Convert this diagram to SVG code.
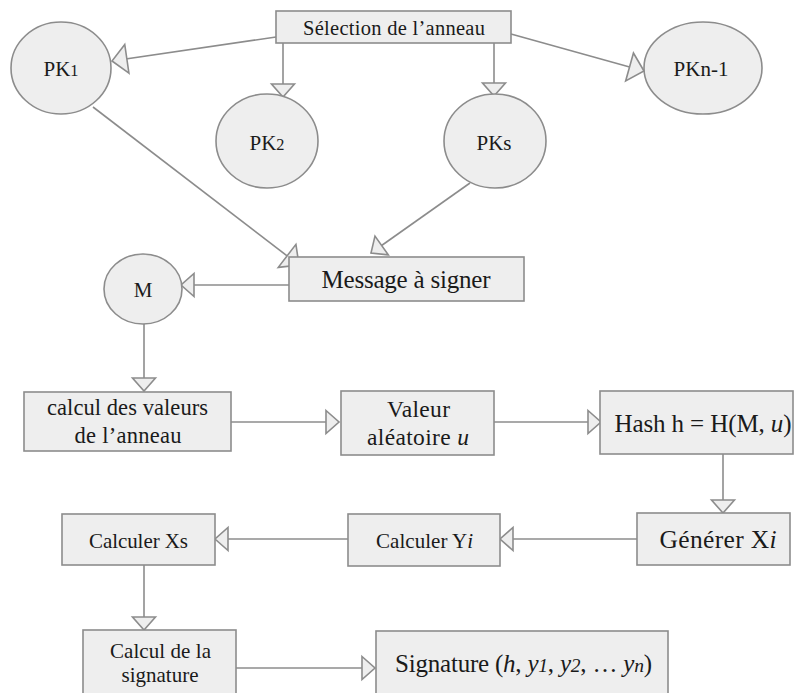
<svg xmlns="http://www.w3.org/2000/svg" width="795" height="693" viewBox="0 0 795 693">
  <style>
    .box { fill: #eeeeee; stroke: #8c8c8c; stroke-width: 1.6; }
    .edge { fill: none; stroke: #8c8c8c; stroke-width: 1.6; }
    .lbl { font-family: "Liberation Serif", "Times New Roman", serif; fill: #1a1a1a; text-anchor: middle; }
    .it { font-style: italic; }
    .sm { font-size: 0.78em; }
  </style>
  <defs>
    <!-- open triangular arrowhead, tip at the path end -->
    <marker id="tri" markerUnits="userSpaceOnUse" orient="auto" markerWidth="40" markerHeight="40" viewBox="-20 -20 40 40" refX="0" refY="0" overflow="visible">
      <path d="M-13,-11.5 L0,0 L-13,11.5 Z" fill="#eeeeee" stroke="#8c8c8c" stroke-width="1.6" stroke-linejoin="miter"/>
    </marker>
    <marker id="triBig" markerUnits="userSpaceOnUse" orient="auto" markerWidth="40" markerHeight="40" viewBox="-20 -20 40 40" refX="0" refY="0" overflow="visible">
      <path d="M-15,-14.5 L0,0 L-15,14.5 Z" fill="#eeeeee" stroke="#8c8c8c" stroke-width="1.6" stroke-linejoin="miter"/>
    </marker>
  </defs>

  <g id="connectors">
    <line class="edge" x1="276" y1="37" x2="112" y2="61" marker-end="url(#triBig)"/>
    <line class="edge" x1="283" y1="43" x2="283" y2="97" marker-end="url(#tri)"/>
    <line class="edge" x1="494" y1="43" x2="494" y2="96" marker-end="url(#tri)"/>
    <line class="edge" x1="511" y1="34" x2="644" y2="71" marker-end="url(#triBig)"/>
    <line class="edge" x1="93" y1="107" x2="299" y2="265" marker-end="url(#triBig)"/>
    <line class="edge" x1="470" y1="183" x2="371" y2="253" marker-end="url(#tri)"/>
    <line class="edge" x1="289" y1="285" x2="181" y2="285" marker-end="url(#tri)"/>
    <line class="edge" x1="144" y1="324" x2="144" y2="391" marker-end="url(#tri)"/>
    <line class="edge" x1="231" y1="422" x2="339" y2="422" marker-end="url(#tri)"/>
    <line class="edge" x1="494" y1="422" x2="601" y2="422" marker-end="url(#tri)"/>
    <line class="edge" x1="723" y1="454" x2="723" y2="513" marker-end="url(#tri)"/>
    <line class="edge" x1="637" y1="539" x2="500" y2="539" marker-end="url(#tri)"/>
    <line class="edge" x1="348" y1="539" x2="215" y2="539" marker-end="url(#tri)"/>
    <line class="edge" x1="144" y1="565" x2="144" y2="630" marker-end="url(#tri)"/>
    <line class="edge" x1="236" y1="668" x2="375" y2="668" marker-end="url(#tri)"/>
  </g>

  <g id="selection">
    <rect class="box" x="276" y="11" width="235" height="32"/>
    <text class="lbl" x="394" y="34.5" font-size="20.5" textLength="182" lengthAdjust="spacing">Sélection de l’anneau</text>
  </g>
  <g id="pk1">
    <ellipse class="box" cx="61" cy="68" rx="50" ry="46"/>
    <text class="lbl" x="61" y="76" font-size="21">PK<tspan class="sm">1</tspan></text>
  </g>
  <g id="pk2">
    <ellipse class="box" cx="267" cy="141" rx="51" ry="47"/>
    <text class="lbl" x="267" y="150" font-size="21">PK<tspan class="sm">2</tspan></text>
  </g>
  <g id="pks">
    <ellipse class="box" cx="495" cy="141" rx="51" ry="47"/>
    <text class="lbl" x="494" y="150" font-size="21">PKs</text>
  </g>
  <g id="pkn1">
    <ellipse class="box" cx="703" cy="68" rx="59" ry="46"/>
    <text class="lbl" x="701" y="76" font-size="21">PKn-1</text>
  </g>
  <g id="message">
    <rect class="box" x="289" y="257" width="235" height="44"/>
    <text class="lbl" x="406" y="288" font-size="25" textLength="169" lengthAdjust="spacing">Message à signer</text>
  </g>
  <g id="m">
    <ellipse class="box" cx="143" cy="289" rx="39" ry="35"/>
    <text class="lbl" x="143" y="297" font-size="21">M</text>
  </g>
  <g id="calcul-anneau">
    <rect class="box" x="24" y="392" width="207" height="59"/>
    <text class="lbl" x="127.5" y="415" font-size="22.5" textLength="161" lengthAdjust="spacing">calcul des valeurs</text>
    <text class="lbl" x="128" y="443" font-size="22.5" textLength="107" lengthAdjust="spacing">de l’anneau</text>
  </g>
  <g id="valeur">
    <rect class="box" x="341" y="391" width="153" height="64"/>
    <text class="lbl" x="418.5" y="417" font-size="23.5" textLength="63" lengthAdjust="spacing">Valeur</text>
    <text class="lbl" x="418" y="445" font-size="23.5" textLength="102" lengthAdjust="spacing">aléatoire <tspan class="it">u</tspan></text>
  </g>
  <g id="hash">
    <rect class="box" x="600" y="391" width="193" height="63"/>
    <text class="lbl" x="703" y="432" font-size="25" textLength="177" lengthAdjust="spacing">Hash h = H(M, <tspan class="it">u</tspan>)</text>
  </g>
  <g id="generer">
    <rect class="box" x="637" y="513" width="153" height="52"/>
    <text class="lbl" x="718" y="548" font-size="25.5" textLength="117" lengthAdjust="spacing">Générer X<tspan class="it">i</tspan></text>
  </g>
  <g id="calculer-yi">
    <rect class="box" x="348" y="514" width="152" height="52"/>
    <text class="lbl" x="424.5" y="548" font-size="21" textLength="97" lengthAdjust="spacing">Calculer Y<tspan class="it">i</tspan></text>
  </g>
  <g id="calculer-xs">
    <rect class="box" x="62" y="514" width="153" height="51"/>
    <text class="lbl" x="138.5" y="548" font-size="21" textLength="99" lengthAdjust="spacing">Calculer Xs</text>
  </g>
  <g id="calcul-signature">
    <rect class="box" x="83" y="630" width="153" height="70"/>
    <text class="lbl" x="160.5" y="658" font-size="21" textLength="101" lengthAdjust="spacing">Calcul de la</text>
    <text class="lbl" x="160" y="682" font-size="21" textLength="77" lengthAdjust="spacing">signature</text>
  </g>
  <g id="signature">
    <rect class="box" x="376" y="631" width="292" height="70"/>
    <text class="lbl" x="523.5" y="672" font-size="25" textLength="257" lengthAdjust="spacing">Signature (<tspan class="it">h</tspan>, <tspan class="it">y</tspan><tspan class="it sm">1</tspan>, <tspan class="it">y</tspan><tspan class="it sm">2</tspan>,  … <tspan class="it">y</tspan><tspan class="it sm">n</tspan>)</text>
  </g>
</svg>
